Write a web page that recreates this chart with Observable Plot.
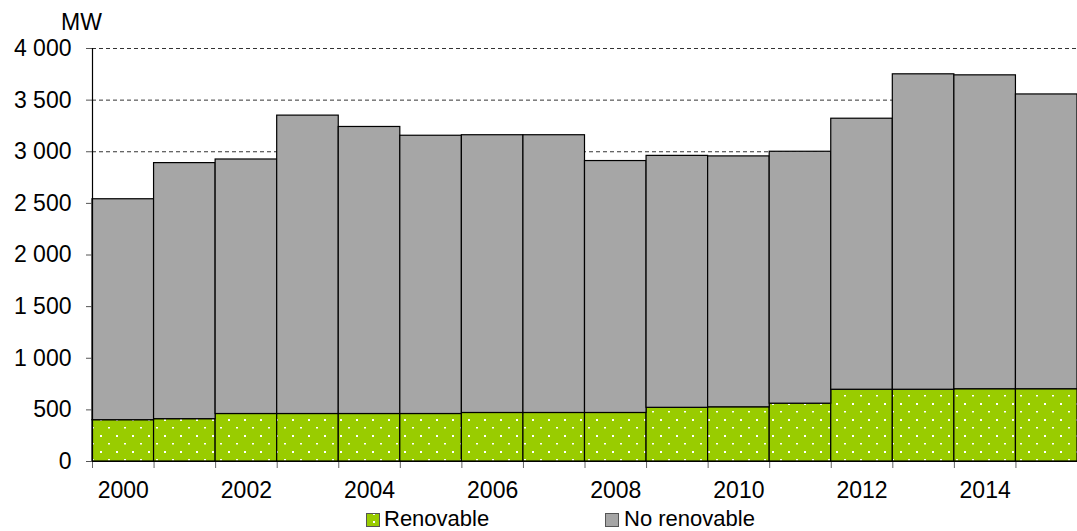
<!DOCTYPE html>
<html>
<head>
<meta charset="utf-8">
<script src="https://cdn.jsdelivr.net/npm/d3@7"></script>
<script src="https://cdn.jsdelivr.net/npm/@observablehq/plot@0.6"></script>
<style>
  body { margin: 0; background: #fff; font-family: "Liberation Sans", Arial, sans-serif; }
  #wrap { position: relative; width: 1077px; height: 531px; overflow: hidden; }
  #unit { position: absolute; left: 61px; top: 11px; font-size: 23px; line-height: 23px; color: #000; }
  #legend { position: absolute; left: 0; top: 500px; }
</style>
</head>
<body>
<div id="wrap">
  <div id="chart"></div>
  <div id="unit">MW</div>
  <svg id="legend" width="1077" height="31" font-family="'Liberation Sans', Arial, sans-serif" font-size="22">
    <defs><pattern id="dotsL" patternUnits="userSpaceOnUse" width="8" height="8"><rect width="8" height="8" fill="#99cc00"/><rect x="5" y="5" width="2" height="2" fill="#fff"/></pattern></defs>
    <rect x="366.5" y="13.5" width="13" height="13" fill="url(#dotsL)" stroke="#555"/>
    <text x="384" y="26" fill="#000">Renovable</text>
    <rect x="605.5" y="13.5" width="13" height="13" fill="#a6a6a6" stroke="#555"/>
    <text x="624" y="26" fill="#000">No renovable</text>
  </svg>
</div>
<script>
const years = [2000, 2001, 2002, 2003, 2004, 2005, 2006, 2007, 2008, 2009, 2010, 2011, 2012, 2013, 2014, 2015];
const renovable = [400, 410, 460, 460, 460, 460, 470, 470, 470, 520, 525, 560, 695, 695, 700, 700];
const noRenovable = [2140, 2480, 2465, 2890, 2780, 2695, 2690, 2690, 2440, 2440, 2430, 2440, 2625, 3055, 3040, 2855];
const yTicks = [0, 500, 1000, 1500, 2000, 2500, 3000, 3500, 4000];
const xLabelYears = [2000, 2002, 2004, 2006, 2008, 2010, 2012, 2014];

const data = years.map((year, i) => ({year, ren: renovable[i], non: noRenovable[i]}));
const boundaries = years.map(y => y - 0.5).concat([years[years.length - 1] + 0.5]);
const fmt = d => d3.format(",")(d).replace(/,/g, " ");

const chart = Plot.plot({
  width: 1077,
  height: 500,
  marginLeft: 92,
  marginRight: 0,
  marginTop: 48,
  marginBottom: 39,
  style: {fontFamily: "'Liberation Sans', Arial, sans-serif", fontSize: "23px", color: "#000", background: "#fff", overflow: "visible"},
  x: {type: "linear", domain: [years[0] - 0.5, years[years.length - 1] + 0.5]},
  y: {domain: [0, 4000]},
  marks: [
    Plot.ruleY(yTicks.filter(d => d > 0), {stroke: "#000", strokeOpacity: 0.8, strokeDasharray: "4,3", strokeWidth: 1}),
    Plot.rectY(data, {x1: d => d.year - 0.5, x2: d => d.year + 0.5, y1: 0, y2: d => d.ren, fill: "url(#dots)", stroke: "#000", strokeWidth: 1.2}),
    Plot.rectY(data, {x1: d => d.year - 0.5, x2: d => d.year + 0.5, y1: d => d.ren, y2: d => d.ren + d.non, fill: "#a6a6a6", stroke: "#000", strokeWidth: 1.2}),
    Plot.axisY({ticks: yTicks, tickFormat: fmt, tickSize: 6, tickPadding: 15, label: null, stroke: "#555", fontSize: 23}),
    Plot.axisX({ticks: boundaries, tickSize: 7, tickFormat: () => "", label: null, stroke: "#666"}),
    Plot.axisX({ticks: xLabelYears, tickSize: 0, tickPadding: 20, tickFormat: d => String(d), label: null, fontSize: 23}),
    Plot.ruleX([years[0] - 0.5], {y1: 0, y2: 4000, stroke: "#000", strokeWidth: 1.2}),
    Plot.ruleY([0], {stroke: "#000", strokeWidth: 1.2})
  ]
});

d3.select(chart).insert("defs", ":first-child").html(
  '<pattern id="dots" patternUnits="userSpaceOnUse" x="0" y="0" width="16" height="16">' +
  '<rect width="16" height="16" fill="#99cc00"/>' +
  '<rect x="4" y="3" width="2" height="2" fill="#fff"/>' +
  '<rect x="12" y="11" width="2" height="1.5" fill="#fff"/>' +
  '</pattern>'
);
document.getElementById("chart").appendChild(chart);
</script>
</body>
</html>
